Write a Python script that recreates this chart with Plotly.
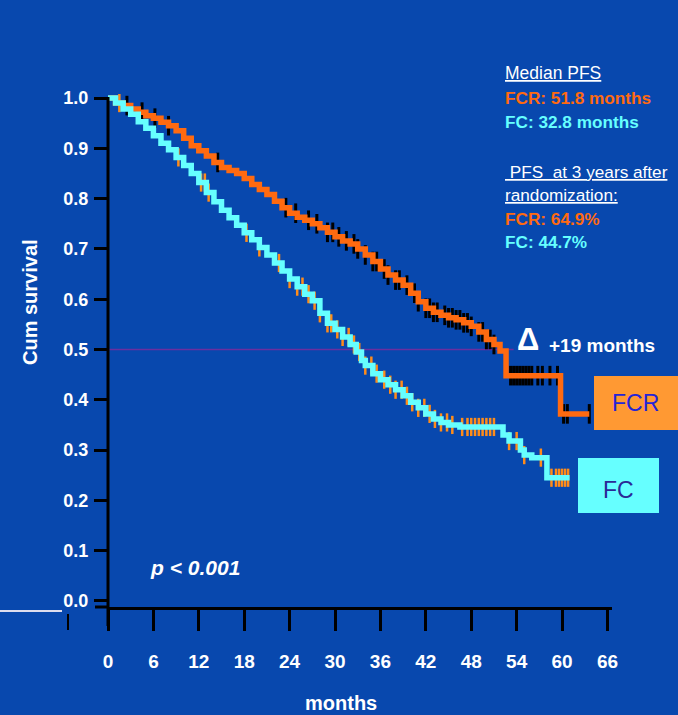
import plotly.graph_objects as go

# ---------------- data ----------------
fcr_t = [0, 1, 2, 3, 4, 5, 6, 7, 8, 9, 10, 11, 12, 13, 14, 15, 16, 17, 18, 19, 20,
         21, 22, 23, 24, 25, 26, 27, 28, 29, 30, 31, 32, 33, 34, 35, 36, 37, 38, 39,
         40, 41, 42, 43, 44, 45, 46, 47, 48, 49, 50, 51, 51.8, 52.6, 59.8, 63.6]
fcr_s = [1.0, 0.99, 0.985, 0.978, 0.972, 0.965, 0.96, 0.952, 0.945, 0.935, 0.92,
         0.905, 0.895, 0.885, 0.872, 0.862, 0.856, 0.85, 0.84, 0.828, 0.818, 0.808,
         0.795, 0.782, 0.771, 0.763, 0.757, 0.75, 0.742, 0.733, 0.724, 0.716, 0.71,
         0.70, 0.688, 0.675, 0.66, 0.648, 0.638, 0.628, 0.612, 0.595, 0.582, 0.574,
         0.568, 0.563, 0.559, 0.553, 0.546, 0.535, 0.52, 0.51, 0.497, 0.448, 0.372, 0.372]

fc_t = [0, 1, 2, 3, 4, 5, 6, 7, 8, 9, 10, 11, 12, 13, 14, 15, 16, 17, 18, 19, 20,
        21, 22, 23, 24, 25, 26, 27, 28, 29, 30, 31, 32, 32.8, 33.5, 34, 35, 36, 37,
        38, 39, 40, 41, 42, 43, 44, 45, 46.5, 52.2, 53, 54.5, 55, 56, 58, 61]
fc_s = [1.0, 0.99, 0.978, 0.968, 0.953, 0.94, 0.925, 0.91, 0.897, 0.882, 0.866,
        0.85, 0.832, 0.812, 0.794, 0.777, 0.762, 0.747, 0.732, 0.718, 0.703, 0.688,
        0.672, 0.656, 0.64, 0.625, 0.61, 0.597, 0.572, 0.552, 0.54, 0.525, 0.51,
        0.495, 0.478, 0.468, 0.452, 0.44, 0.43, 0.42, 0.408, 0.395, 0.384, 0.372,
        0.362, 0.355, 0.35, 0.346, 0.33, 0.318, 0.30, 0.29, 0.285, 0.245, 0.245]

fcr_cens = [2.5, 4.5, 6.2, 8.0, 14.5, 23.5, 24.8, 26.5, 27.6, 29.0, 29.7, 30.5, 31.5,
            32.5, 33.0, 34.0, 35.0, 35.5, 36.5, 37.0, 38.0, 38.5, 39.5, 40.5, 41.0,
            42.0, 42.5, 43.0, 43.5, 44.5, 45.0, 45.5, 46.0, 46.5, 47.0, 47.5, 48.0,
            49.0, 49.5, 50.0, 50.5, 51.0, 53.2, 53.6, 54.0, 54.4, 54.8, 55.2, 55.6,
            56.0, 56.8, 57.4, 58.4, 59.4, 60.2, 60.7, 63.6]
fc_cens = [1.5, 9.3, 12.3, 12.8, 13.3, 18.3, 20.0, 22.6, 24.0, 25.0, 25.7, 26.5, 27.3,
           28.0, 29.0, 29.5, 30.3, 31.0, 31.8, 32.5, 33.2, 34.0, 34.8, 35.5, 36.5,
           37.3, 38.0, 38.8, 39.5, 40.2, 41.0, 41.8, 42.5, 43.2, 44.0, 44.8, 45.5,
           46.8, 47.5, 48.0, 48.5, 49.0, 49.5, 50.0, 50.5, 51.0, 53.0, 54.0, 55.0,
           57.2, 58.6, 59.2, 59.6, 60.0, 60.4, 60.8]

x_ticks = [0, 6, 12, 18, 24, 30, 36, 42, 48, 54, 60, 66]
y_ticks = [0.0, 0.1, 0.2, 0.3, 0.4, 0.5, 0.6, 0.7, 0.8, 0.9, 1.0]
y_ticktext = ["0.0", "0.1", "0.2", "0.3", "0.4", "0.5", "0.6", "0.7", "0.8", "0.9", "1.0"]

# ---------------- styling ----------------
BG = "#0848AE"
ORANGE = "#FF6A10"
CYAN = "#66FFFF"
FONT = "Liberation Sans, Arial, sans-serif"
NARROW = "Liberation Sans Narrow, Liberation Sans, Arial, sans-serif"

W, H = 678, 715
L, R, T, B = 108, 66, 90, 108
X0, X1 = 0, 66.6
Y0, Y1 = -0.012, 1.016


def step_value(ts, ss, t):
    v = ss[0]
    for ti, si in zip(ts, ss):
        if ti <= t:
            v = si
        else:
            break
    return v


def px(xp):
    return (xp - L) / (W - L - R)


def py(yp):
    return (H - B - yp) / (H - T - B)


fig = go.Figure()

# censor marks (under the curves)
fig.add_trace(go.Scatter(
    x=fcr_cens, y=[step_value(fcr_t, fcr_s, t) for t in fcr_cens], mode="markers",
    marker=dict(symbol="line-ns", size=14, line=dict(color="black", width=3)),
    hoverinfo="skip", showlegend=False))
fig.add_trace(go.Scatter(
    x=fc_cens, y=[step_value(fc_t, fc_s, t) for t in fc_cens], mode="markers",
    marker=dict(symbol="line-ns", size=13, line=dict(color="#FF8C1A", width=2.5)),
    hoverinfo="skip", showlegend=False))

# survival curves
fig.add_trace(go.Scatter(x=fcr_t, y=fcr_s, mode="lines", line_shape="hv",
                         line=dict(color=ORANGE, width=5.5), name="FCR", showlegend=False))
fig.add_trace(go.Scatter(x=fc_t, y=fc_s, mode="lines", line_shape="hv",
                         line=dict(color=CYAN, width=5.5), name="FC", showlegend=False))

shapes = [
    # 0.5 reference line
    dict(type="line", xref="x", yref="y", x0=0, x1=53.6, y0=0.5, y1=0.5,
         line=dict(color="#6A2FA0", width=1.5), layer="below"),
    # y axis line (extends below x axis)
    dict(type="line", xref="paper", yref="paper", x0=0, x1=0, y0=py(626), y1=py(97),
         line=dict(color="black", width=3)),
    # x axis extension left of y axis
    dict(type="line", xref="paper", yref="paper", x0=px(95), x1=0, y0=0, y1=0,
         line=dict(color="black", width=3)),
    # stray white line and tick at left
    dict(type="line", xref="paper", yref="paper", x0=px(0), x1=px(62), y0=py(611), y1=py(611),
         line=dict(color="#DDDDEE", width=2)),
    dict(type="line", xref="paper", yref="paper", x0=px(68), x1=px(68), y0=py(614), y1=py(630),
         line=dict(color="black", width=2)),
    # label boxes
    dict(type="rect", xref="paper", yref="paper", x0=px(594), x1=px(679), y0=py(430), y1=py(376),
         fillcolor="#FF9933", line=dict(width=0)),
    dict(type="rect", xref="paper", yref="paper", x0=px(578), x1=px(659), y0=py(513), y1=py(458),
         fillcolor=CYAN, line=dict(width=0)),
]

ann = []


def add_text(text, xp, yp, color="white", size=16, bold=False, xanchor="left",
             font=FONT, angle=0):
    t = f"<b>{text}</b>" if bold else text
    ann.append(dict(text=t, xref="paper", yref="paper", x=px(xp), y=py(yp),
                    xanchor=xanchor, yanchor="middle", showarrow=False, textangle=angle,
                    font=dict(color=color, size=size, family=font)))


add_text("<u>Median PFS</u>", 503, 73, size=17.5)
add_text("FCR: 51.8 months", 503, 98, color=ORANGE, size=17.2, bold=True)
add_text("FC: 32.8 months", 503, 122, color=CYAN, size=17.2, bold=True)
add_text("<u> PFS  at 3 years after</u>", 503, 172, size=17.2)
add_text("<u>randomization:</u>", 503, 195, size=17.2)
add_text("FCR: 64.9%", 503, 219, color=ORANGE, size=17.2, bold=True)
add_text("FC: 44.7%", 503, 242, color=CYAN, size=17.2, bold=True)

add_text("Δ", 528, 339, size=31, bold=True, xanchor="center")
add_text("+19 months", 547, 345, size=19, bold=True)
add_text("<i>p < 0.001</i>", 148, 567, size=21, bold=True)
add_text("FCR", 635, 403, color="#2424D8", size=23, xanchor="center", font=NARROW)
add_text("FC", 618, 490, color="#2A2A96", size=23, xanchor="center", font=NARROW)
add_text("Cum survival", 30, 302, size=20, bold=True, xanchor="center", angle=-90)
add_text("months", 341, 703, size=20, bold=True, xanchor="center", font=NARROW)

fig.update_layout(
    width=W, height=H,
    margin=dict(l=L, r=R, t=T, b=B, pad=0),
    paper_bgcolor=BG, plot_bgcolor=BG,
    shapes=shapes, annotations=ann,
    xaxis=dict(range=[X0, X1], tickvals=x_ticks, ticks="outside", ticklen=21,
               tickwidth=3, tickcolor="black", showline=True, linecolor="black",
               linewidth=3, showgrid=False, zeroline=False, ticklabelstandoff=14,
               tickfont=dict(color="white", size=19, family=NARROW, weight="bold")),
    yaxis=dict(range=[Y0, Y1], tickvals=y_ticks, ticktext=y_ticktext, ticks="outside",
               ticklen=13, tickwidth=3, tickcolor="black", showline=False,
               showgrid=False, zeroline=False, ticklabelstandoff=2,
               tickfont=dict(color="white", size=18, family=FONT, weight="bold")),
)

fig.write_html("out.html")
